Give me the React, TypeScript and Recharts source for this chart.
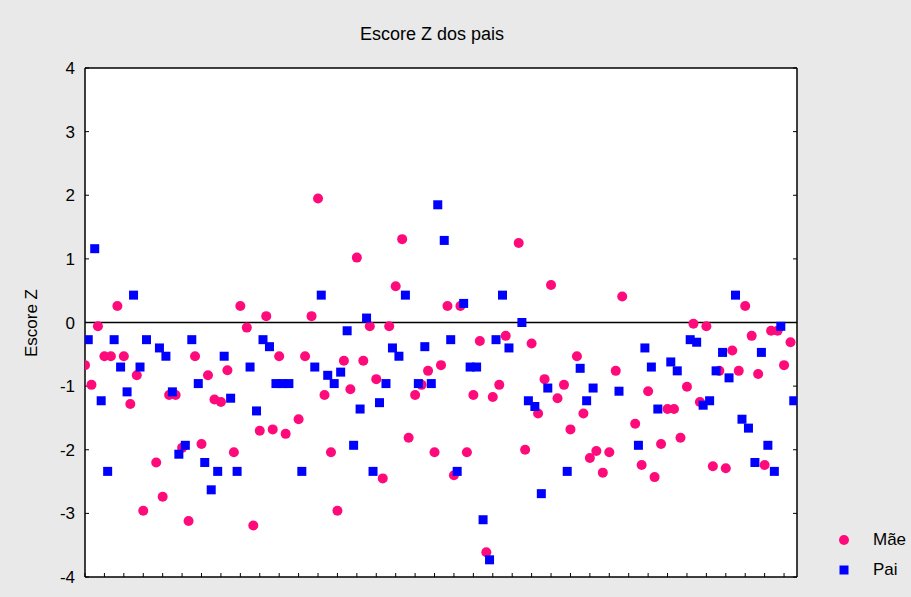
import {
  CartesianGrid,
  ReferenceLine,
  Scatter,
  ScatterChart,
  XAxis,
  YAxis,
} from 'recharts'

const FONT = '"Liberation Sans", Arial, sans-serif'
const MAE_COLOR = '#ff0a7a'
const PAI_COLOR = '#0000ff'

// case numbers 0..109, null = no value
const maeZ = [
  -0.67, -0.98, -0.06, -0.53, -0.53, 0.26, -0.53, -1.28, -0.83, -2.96,
  null, -2.2, -2.74, -1.14, -1.14, -1.97, -3.12, -0.53, -1.91, -0.83,
  -1.21, -1.25, -0.75, -2.04, 0.26, -0.08, -3.19, -1.7, 0.1, -1.68,
  -0.53, -1.75, null, -1.52, -0.53, 0.1, 1.95, -1.14, -2.04, -2.96,
  -0.6, -1.05, 1.02, -0.6, -0.06, -0.89, -2.45, -0.06, 0.57, 1.31,
  -1.81, -1.14, -0.98, -0.76, -2.04, -0.67, 0.26, -2.4, 0.26, -2.04,
  -1.14, -0.29, -3.61, -1.17, -0.98, -0.21, null, 1.25, -2.0, -0.33,
  -1.43, -0.89, 0.59, -1.19, -0.98, -1.68, -0.53, -1.43, -2.13, -2.02,
  -2.36, -2.04, -0.76, 0.41, null, -1.59, -2.24, -1.08, -2.43, -1.91,
  -1.36, -1.36, -1.81, -1.01, -0.02, -1.25, -0.06, -2.26, -0.76, -2.29,
  -0.44, -0.76, 0.26, -0.21, -0.81, -2.24, -0.13, -0.13, -0.67, -0.31,
]

const paiZ = [
  -0.27, 1.16, -1.23, -2.34, -0.27, -0.7, -1.09, 0.43, -0.7, -0.27,
  null, -0.4, -0.53, -1.09, -2.07, -1.93, -0.27, -0.96, -2.2, -2.63,
  -2.34, -0.53, -1.19, -2.34, null, -0.7, -1.39, -0.27, -0.38, -0.96,
  -0.96, -0.96, null, -2.34, null, -0.7, 0.43, -0.83, -0.96, -0.78,
  -0.13, -1.93, -1.36, 0.07, -2.34, -1.26, -0.96, -0.4, -0.53, 0.43,
  null, -0.96, -0.38, -0.96, 1.85, 1.29, -0.27, -2.34, 0.3, -0.7,
  -0.7, -3.1, -3.73, -0.27, 0.43, -0.4, null, 0.0, -1.23, -1.32,
  -2.69, -1.03, null, null, -2.34, null, -0.72, -1.23, -1.03, null,
  null, null, -1.08, null, null, -1.93, -0.4, -0.7, -1.36, null,
  -0.62, -0.76, null, -0.27, -0.31, -1.3, -1.23, -0.76, -0.47, -0.87,
  0.43, -1.52, -1.66, -2.2, -0.47, -1.93, -2.34, -0.06, null, -1.23,
]

const xTicks = Array.from({ length: 37 }, (_, i) => i * 3)
const yTicks = [-4, -3, -2, -1, 0, 1, 2, 3, 4]

// Pai markers sit half a case to the right of Mãe
const maeData = maeZ
  .map((z, i) => ({ x: i, y: z }))
  .filter((d) => d.y !== null)
const paiData = paiZ
  .map((z, i) => ({ x: i + 0.5, y: z }))
  .filter((d) => d.y !== null)

const Dot = (props: any) => (
  <circle cx={props.cx} cy={props.cy} r={5} fill={MAE_COLOR} />
)
const Square = (props: any) => (
  <rect x={props.cx - 4.5} y={props.cy - 4.5} width={9} height={9} fill={PAI_COLOR} />
)

const LegendBox = () => (
  <div
    style={{
      position: 'absolute',
      left: 838,
      top: 525,
      fontFamily: FONT,
      fontSize: 17,
      color: '#000',
    }}
  >
    <div style={{ display: 'flex', alignItems: 'center', height: 30 }}>
      <svg width={12} height={12} style={{ marginRight: 23 }}>
        <circle cx={6} cy={6} r={5} fill={MAE_COLOR} />
      </svg>
      <span>Mãe</span>
    </div>
    <div style={{ display: 'flex', alignItems: 'center', height: 30 }}>
      <svg width={12} height={12} style={{ marginRight: 23 }}>
        <rect x={1.5} y={1.5} width={9} height={9} fill={PAI_COLOR} />
      </svg>
      <span>Pai</span>
    </div>
  </div>
)

export default function App() {
  const axisStroke = { stroke: '#000', strokeWidth: 1.5 }
  return (
    <div
      style={{
        position: 'absolute',
        left: 0,
        top: 0,
        width: 911,
        height: 597,
        background: '#e9e9e9',
      }}
    >
      <ScatterChart
        width={911}
        height={597}
        margin={{ top: 66, right: 112, bottom: 18, left: 0 }}
        style={{ position: 'absolute', left: 0, top: 0 }}
      >
        <CartesianGrid fill="#fff" stroke="none" horizontal={false} vertical={false} />
        <XAxis
          type="number"
          dataKey="x"
          domain={[0, 110]}
          ticks={xTicks}
          allowDataOverflow
          height={2}
          tickSize={-4}
          tickFormatter={() => ''}
          axisLine={axisStroke}
          tickLine={{ stroke: '#000' }}
        />
        <XAxis
          xAxisId="top"
          orientation="top"
          type="number"
          domain={[0, 110]}
          ticks={xTicks}
          allowDataOverflow
          height={2}
          tickSize={-4}
          tickFormatter={() => ''}
          axisLine={axisStroke}
          tickLine={{ stroke: '#000' }}
        />
        <YAxis
          type="number"
          dataKey="y"
          domain={[-4, 4]}
          ticks={yTicks}
          allowDataOverflow
          width={85}
          tickSize={-4}
          tickMargin={14}
          axisLine={axisStroke}
          tickLine={{ stroke: '#000' }}
          tick={{ fill: '#000', fontSize: 17, fontFamily: FONT }}
        />
        <YAxis
          yAxisId="right"
          orientation="right"
          type="number"
          domain={[-4, 4]}
          ticks={yTicks}
          allowDataOverflow
          width={2}
          tickSize={-4}
          tickFormatter={() => ''}
          axisLine={axisStroke}
          tickLine={{ stroke: '#000' }}
        />
        <ReferenceLine y={0} stroke="#000" strokeWidth={1.5} />
        <Scatter name="Mãe" data={maeData} shape={Dot} isAnimationActive={false} />
        <Scatter name="Pai" data={paiData} shape={Square} isAnimationActive={false} />
      </ScatterChart>
      <div
        style={{
          position: 'absolute',
          left: 0,
          width: 864,
          top: 24,
          textAlign: 'center',
          fontFamily: FONT,
          fontSize: 18,
          color: '#000',
        }}
      >
        Escore Z dos pais
      </div>
      <div
        style={{
          position: 'absolute',
          left: 32,
          top: 323,
          transform: 'translate(-50%, -50%) rotate(-90deg)',
          whiteSpace: 'nowrap',
          fontFamily: FONT,
          fontSize: 17,
          color: '#000',
        }}
      >
        Escore Z
      </div>
      <LegendBox />
    </div>
  )
}
